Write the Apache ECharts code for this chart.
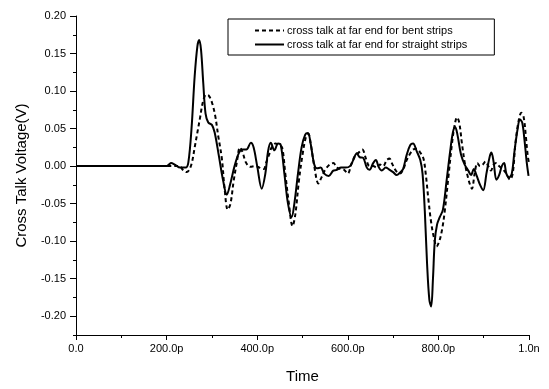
<!DOCTYPE html>
<html>
<head>
<meta charset="utf-8">
<script src="https://cdn.jsdelivr.net/npm/echarts@6/dist/echarts.min.js"></script>
<style>
  html, body { margin: 0; padding: 0; background: #fff; }
  #chart { width: 549px; height: 389px; }
</style>
</head>
<body>
<div id="chart"></div>
<script>
// time in ps, voltage in V
var timeBent = [0, 228, 236, 244, 250, 256, 262, 268, 274, 280, 287, 293, 300, 307, 314, 322, 328, 335, 341, 348,
  355, 362, 368, 375, 385, 395, 405, 414, 420, 426, 432, 440, 448, 455, 462, 470, 478, 484, 492, 500,
  508, 513, 518, 526, 535, 542, 550, 560, 568, 576, 584, 592, 600, 608, 616, 624, 632, 640, 648, 656,
  664, 671, 678, 686, 692, 698, 706, 715, 722, 730, 737, 744, 752, 760, 767, 772, 778, 784, 790, 796,
  802, 808, 814, 822, 830, 836, 841, 846, 852, 858, 864, 870, 874, 880, 886, 892, 898, 904, 910, 916,
  922, 928, 934, 942, 950, 958, 964, 970, 977, 983, 988, 993, 997, 1000];
var voltBent = [0, 0, -0.005, -0.008, -0.005, 0.005, 0.025, 0.045, 0.065, 0.085, 0.095, 0.094, 0.085, 0.068, 0.040, 0.010, -0.030, -0.058, -0.050, -0.020,
  0.005, 0.025, 0.018, 0.005, -0.001, 0.000, -0.002, -0.004, 0.005, 0.015, 0.025, 0.030, 0.028, 0.025, -0.010, -0.050, -0.080, -0.065, -0.020, 0.015,
  0.040, 0.043, 0.030, 0.000, -0.023, -0.015, -0.005, 0.002, 0.004, -0.002, -0.004, -0.005, -0.010, 0.003, 0.014, 0.018, 0.022, 0.010, 0.000, 0.000,
  -0.002, 0.002, 0.000, 0.008, 0.010, 0.003, -0.006, -0.010, -0.005, 0.008, 0.016, 0.022, 0.023, 0.018, 0.010, -0.010, -0.045, -0.075, -0.095, -0.107,
  -0.100, -0.085, -0.060, -0.015, 0.030, 0.055, 0.065, 0.058, 0.030, 0.005, -0.012, -0.025, -0.030, -0.010, 0.004, 0.000, 0.002, 0.006, 0.000, -0.006,
  0.002, 0.004, 0.000, -0.004, -0.010, -0.018, -0.010, 0.030, 0.060, 0.071, 0.066, 0.040, 0.015, 0.004];

var timeStraight = [0, 200, 205, 210, 218, 230, 242, 248, 255, 262, 268, 272, 276, 281, 286, 292, 300, 306, 315, 325,
  333, 340, 350, 360, 368, 376, 386, 392, 400, 410, 418, 424, 430, 438, 446, 452, 460, 468, 476, 482,
  490, 498, 506, 512, 518, 526, 532, 540, 548, 558, 568, 576, 585, 595, 605, 612, 620, 626, 634, 642,
  648, 656, 662, 668, 675, 684, 690, 700, 708, 716, 722, 730, 738, 744, 752, 760, 765, 770, 775, 780,
  784, 788, 792, 797, 803, 810, 818, 826, 832, 837, 842, 850, 858, 866, 872, 878, 884, 892, 899, 906,
  913, 917, 922, 928, 934, 940, 945, 950, 956, 962, 968, 975, 980, 985, 990, 995, 999];
var voltStraight = [0, 0, 0.002, 0.004, 0.002, -0.002, -0.002, 0.005, 0.050, 0.120, 0.160, 0.168, 0.155, 0.110, 0.070, 0.058, 0.055, 0.045, 0.015, -0.020,
  -0.038, -0.025, 0.000, 0.018, 0.022, 0.022, 0.031, 0.025, 0.000, -0.030, -0.010, 0.020, 0.031, 0.021, 0.030, 0.028, -0.010, -0.050, -0.068, -0.050,
  -0.010, 0.025, 0.042, 0.044, 0.030, 0.002, -0.003, -0.002, -0.010, -0.013, -0.006, -0.005, -0.002, -0.002, 0.000, 0.008, 0.017, 0.012, 0.011, -0.002,
  -0.005, 0.004, 0.008, -0.001, -0.006, -0.002, -0.004, -0.008, -0.012, -0.008, -0.004, 0.015, 0.028, 0.030, 0.020, 0.008, -0.010, -0.060, -0.130, -0.178,
  -0.187, -0.150, -0.100, -0.078, -0.068, -0.058, -0.020, 0.020, 0.045, 0.052, 0.042, 0.015, 0.002, -0.006, -0.012, -0.004, -0.012, -0.025, -0.032, -0.010,
  0.012, 0.018, 0.005, -0.018, -0.012, 0.000, 0.004, -0.010, -0.015, -0.010, 0.020, 0.050, 0.062, 0.058, 0.035, 0.005, -0.013];

var yTicks = [-0.20, -0.15, -0.10, -0.05, 0.00, 0.05, 0.10, 0.15, 0.20];

function zip(xs, ys) {
  return xs.map(function (x, i) { return [x, ys[i]]; });
}

var myChart = echarts.init(document.getElementById('chart'));
var font = 'Liberation Sans, Arial, sans-serif';

myChart.setOption({
  animation: false,
  backgroundColor: '#fff',
  grid: { left: 76, right: 20, top: 16, bottom: 49, containLabel: false },
  legend: {
    orient: 'vertical',
    left: 228,
    top: 19,
    padding: [6, 27, 5, 26],
    itemGap: 3,
    itemWidth: 29,
    itemHeight: 12,
    itemStyle: { opacity: 0, borderWidth: 0 },
    borderColor: '#000',
    borderWidth: 1,
    borderRadius: 0,
    textStyle: { color: '#000', fontSize: 11, fontFamily: font, padding: [0, 0, 0, -2] },
    data: ['cross talk at far end for bent strips', 'cross talk at far end for straight strips']
  },
  xAxis: {
    type: 'value',
    min: 0,
    max: 1000,
    interval: 200,
    name: 'Time',
    nameLocation: 'middle',
    nameGap: 34,
    nameTextStyle: { color: '#000', fontSize: 15, fontFamily: font },
    axisLine: { onZero: false, lineStyle: { color: '#000', width: 1 } },
    axisTick: { length: 5, lineStyle: { color: '#000' } },
    minorTick: { show: true, splitNumber: 2, length: 3, lineStyle: { color: '#000' } },
    splitLine: { show: false },
    axisLabel: {
      color: '#000', fontSize: 11, fontFamily: font, margin: 8,
      formatter: function (v) {
        if (v === 0) return '0.0';
        if (v === 1000) return '1.0n';
        return v.toFixed(1) + 'p';
      }
    }
  },
  yAxis: [{
    type: 'value',
    min: -0.225,
    max: 0.2,
    interval: 0.025,
    name: 'Cross Talk Voltage(V)',
    nameLocation: 'middle',
    nameGap: 47,
    nameTextStyle: { color: '#000', fontSize: 15, fontFamily: font },
    axisLine: { show: true, onZero: false, lineStyle: { color: '#000', width: 1 } },
    axisTick: { length: 3, lineStyle: { color: '#000' } },
    splitLine: { show: false },
    axisLabel: {
      color: '#000', fontSize: 11, fontFamily: font, margin: 10,
      customValues: yTicks,
      formatter: function (v) { return v.toFixed(2); }
    }
  }, {
    type: 'value',
    position: 'left',
    min: -0.225,
    max: 0.2,
    interval: 0.025,
    axisLine: { show: false },
    axisTick: { show: true, length: 6, customValues: yTicks, lineStyle: { color: '#000' } },
    axisLabel: { show: false },
    splitLine: { show: false }
  }],
  series: [{
    name: 'cross talk at far end for bent strips',
    type: 'line',
    data: zip(timeBent, voltBent),
    smooth: 0.35,
    symbol: 'none',
    lineStyle: { color: '#000', width: 2, type: [4, 3] },
    itemStyle: { color: '#000' },
    z: 2
  }, {
    name: 'cross talk at far end for straight strips',
    type: 'line',
    data: zip(timeStraight, voltStraight),
    smooth: 0.35,
    symbol: 'none',
    lineStyle: { color: '#000', width: 2 },
    itemStyle: { color: '#000' },
    z: 3
  }]
});
</script>
</body>
</html>
